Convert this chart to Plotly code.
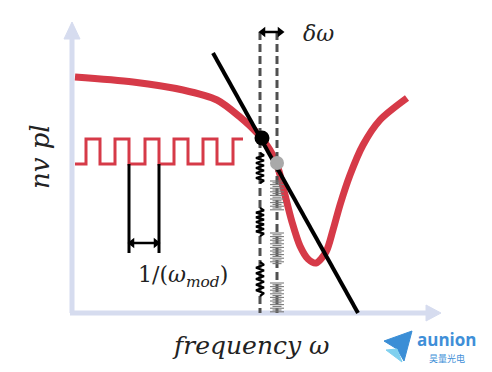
import plotly.graph_objects as go

W, H = 492, 372
OFF = 8  # default page margin of the html body

# ---- data (pixel-space schematic values) ----
red_x = [75, 133, 183, 217, 240, 257, 270, 278, 285, 292, 300, 308, 316, 326, 333, 340, 350, 363, 380, 407]
red_y = [77, 82, 90, 100, 117, 133, 150, 168, 195, 222, 246, 259, 263, 252, 230, 205, 175, 145, 120, 98]

tangent_x = [213, 358]
tangent_y = [53, 313]

sq_start, sq_end = 75, 243
sq_high, sq_low = 139, 164
sq_up = [86, 115, 145, 174, 203, 233]
sq_down = [100, 129, 159, 188, 217]

period_marks_x = [129, 159]
period_marks_y = [164, 253]
period_arrow_y = 243

dash_left_x, dash_right_x = 260, 277
dash_top, dash_bottom = 32, 313

dot_black = (262, 138)
dot_gray = (277, 163)

springs = [(153, 183), (208, 236), (262, 296)]
combs = [(181, 210), (233, 265), (283, 312)]

axis_origin = (72, 313)
y_axis_top = 22
x_axis_right = 441

AX_COL = "#d6dcef"
RED = "#d63a48"

fig = go.Figure()


def line(x, y, color, width, dash=None, **kw):
    fig.add_trace(go.Scatter(x=x, y=y, mode="lines",
                             line=dict(color=color, width=width, dash=dash, **kw), hoverinfo="skip"))


def poly(x, y, color):
    fig.add_trace(go.Scatter(x=x + [x[0]], y=y + [y[0]], mode="lines", fill="toself",
                             fillcolor=color, line=dict(color=color, width=1), hoverinfo="skip"))


def double_arrow(x0, x1, y, color="black"):
    line([x0 + 3, x1 - 3], [y, y], color, 2.5)
    fig.add_trace(go.Scatter(x=[x0 + 3, x1 - 3], y=[y, y], mode="markers",
                             marker=dict(symbol=["triangle-left", "triangle-right"], size=9, color=color),
                             hoverinfo="skip"))


# axes
line([axis_origin[0], axis_origin[0]], [axis_origin[1], y_axis_top + 14], AX_COL, 5)
line([axis_origin[0] - 2, x_axis_right - 14], [axis_origin[1], axis_origin[1]], AX_COL, 5)
poly([64, 80, 72], [39, 39, y_axis_top], AX_COL)
poly([x_axis_right - 15, x_axis_right - 15, x_axis_right], [305, 321, 313], AX_COL)

# red response curve
line(red_x, red_y, RED, 7, shape="spline", smoothing=0.8)

# square wave
sx, sy = [sq_start], [sq_low]
edges = sorted([(u, "up") for u in sq_up] + [(d, "down") for d in sq_down])
for e, kind in edges:
    sx += [e, e]
    sy += [sq_low, sq_high] if kind == "up" else [sq_high, sq_low]
sx.append(sq_end); sy.append(sq_high)
line(sx, sy, RED, 3)

# period markers
for px in period_marks_x:
    line([px, px], period_marks_y, "black", 3)
double_arrow(period_marks_x[0], period_marks_x[1], period_arrow_y)

# dashed verticals
for dx in (dash_left_x, dash_right_x):
    line([dx, dx], [dash_top, dash_bottom], "#505050", 3, dash="8px,4px")
double_arrow(dash_left_x, dash_right_x + 6, dash_top)

# springs (black zigzags on left dashed line)
for y0, y1 in springs:
    n = 12
    zx, zy = [dash_left_x], [y0]
    for i in range(1, n):
        zx.append(dash_left_x + (4 if i % 2 else -4))
        zy.append(y0 + (y1 - y0) * i / n)
    zx.append(dash_left_x); zy.append(y1)
    line(zx, zy, "black", 2.2)

# gray combs on right dashed line
for y0, y1 in combs:
    cx, cy = [], []
    y, k = y0, 0
    while y <= y1:
        half = 7 if k % 2 == 0 else 4.5
        cx += [dash_right_x - half, dash_right_x + half, None]
        cy += [y, y, None]
        y += 1.8
        k += 1
    line(cx, cy, "#7a7a7a", 1.1)

# tangent line
line(tangent_x, tangent_y, "black", 4)

# dots
fig.add_trace(go.Scatter(x=[dot_black[0]], y=[dot_black[1]], mode="markers",
                         marker=dict(color="black", size=15), hoverinfo="skip"))
fig.add_trace(go.Scatter(x=[dot_gray[0]], y=[dot_gray[1]], mode="markers",
                         marker=dict(color="#a9a9a9", size=14), hoverinfo="skip"))

# logo icon
poly([384, 412, 404, 397], [341, 331, 361, 349], "#3b8ed6")
poly([386, 397, 402], [350, 349, 362], "#7fd0ef")

annotations = [
    dict(x=318, y=33, text="<i>δω</i>", font=dict(family="DejaVu Serif", size=22, color="#222")),
    dict(x=183, y=276, text="1/(<i>ω</i><sub><i>mod</i></sub>)",
         font=dict(family="DejaVu Serif", size=22, color="#222")),
    dict(x=250, y=345, text="<i>frequency ω</i>", font=dict(family="DejaVu Serif", size=25, color="#222")),
    dict(x=40, y=157, text="<i>nv pl</i>", textangle=-90,
         font=dict(family="DejaVu Serif", size=26, color="#222")),
    dict(x=447, y=339, text="<b>aunion</b>", font=dict(family="Open Sans", size=17, color="#3f8fd8")),
    dict(x=447, y=358, text="昊量光电", font=dict(family="Noto Sans CJK SC", size=9, color="#3f8fd8")),
]
for a in annotations:
    a.update(xref="x", yref="y", showarrow=False)

fig.update_layout(
    width=W - OFF, height=H - 2 * OFF, margin=dict(l=0, r=0, t=0, b=0),
    paper_bgcolor="white", plot_bgcolor="white", showlegend=False,
    xaxis=dict(range=[OFF, W], visible=False, fixedrange=True),
    yaxis=dict(range=[H - OFF, OFF], visible=False, fixedrange=True),
    annotations=annotations,
)

fig.write_html("out.html")
